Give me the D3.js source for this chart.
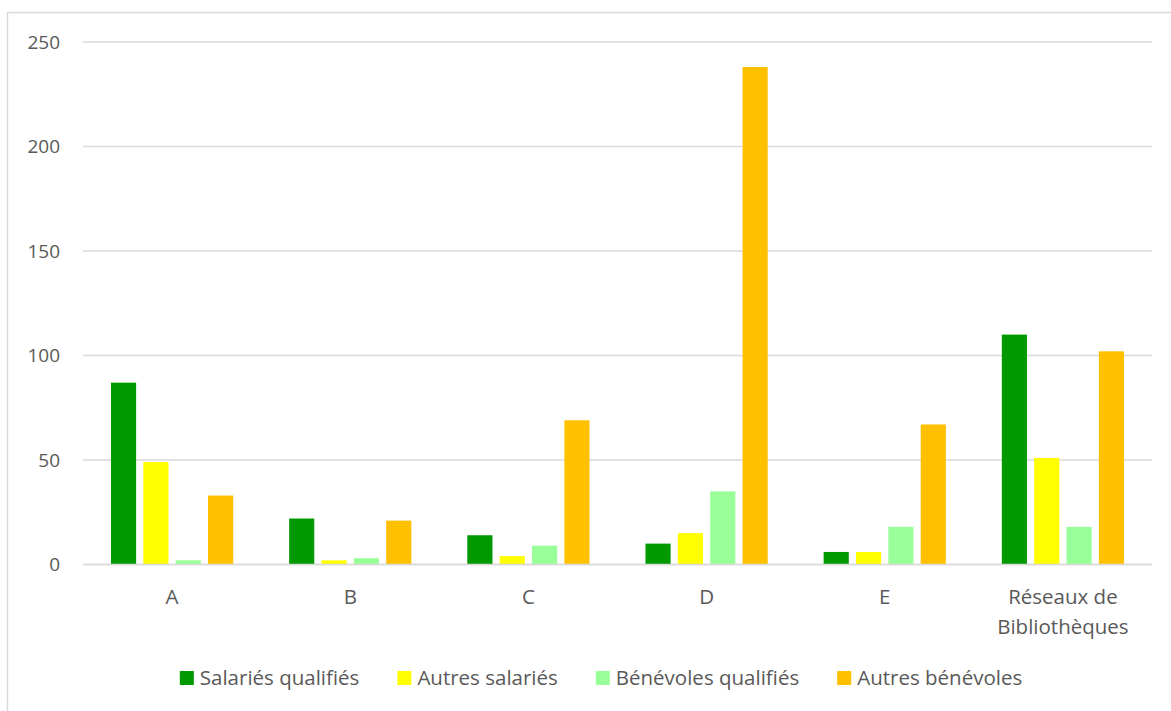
<!DOCTYPE html>
<html>
<head>
<meta charset="utf-8">
<script src="https://cdn.jsdelivr.net/npm/d3@7"></script>
<style>
  html, body { margin: 0; padding: 0; background: #fff; }
  svg { display: block; font-family: "Open Sans", sans-serif; }
</style>
</head>
<body>
<svg id="chart" width="1171" height="711"></svg>
<script>
const categories = ["A", "B", "C", "D", "E", "Réseaux de Bibliothèques"];
const seriesNames = ["Salariés qualifiés", "Autres salariés", "Bénévoles qualifiés", "Autres bénévoles"];
const salariesQualifies = [87, 22, 14, 10, 6, 110];
const autresSalaries = [49, 2, 4, 15, 6, 51];
const benevolesQualifies = [2, 3, 9, 35, 18, 18];
const autresBenevoles = [33, 21, 69, 238, 67, 102];
const yTicks = [0, 50, 100, 150, 200, 250];
const colors = ["#009900", "#FFFF00", "#99FF99", "#FFC000"];

(function() {
const FONT = "Open Sans, sans-serif";
const seriesValues = [salariesQualifies, autresSalaries, benevolesQualifies, autresBenevoles];
const data = categories.map((c, i) => ({
  cat: c,
  values: seriesNames.map((s, j) => ({ series: s, value: seriesValues[j][i], color: colors[j] }))
}));

const svg = d3.select("#chart");
const pLeft = 83, pRight = 1152, pTop = 42, pBottom = 564.5;

svg.append("rect").attr("x", 7.5).attr("y", 12.5).attr("width", 1180).attr("height", 720)
  .attr("fill", "none").attr("stroke", "#d9d9d9").attr("stroke-width", 1.5);

const y = d3.scaleLinear().domain([0, 250]).range([pBottom, pTop]);
const x0 = d3.scaleBand().domain(categories).range([pLeft, pRight]).paddingInner(0.314).paddingOuter(0.157);
const x1 = d3.scaleBand().domain(seriesNames).range([0, x0.bandwidth()]).paddingInner(0.223).paddingOuter(0);

svg.append("g").selectAll("line").data(yTicks).join("line")
  .attr("x1", pLeft).attr("x2", pRight)
  .attr("y1", d => y(d)).attr("y2", d => y(d))
  .attr("stroke", "#d9d9d9").attr("stroke-width", 1.5);

const yAxis = d3.axisLeft(y).tickValues(yTicks).tickSize(0).tickPadding(0);
const yg = svg.append("g").attr("transform", `translate(60,0)`).call(yAxis);
yg.select(".domain").remove();
yg.selectAll("text").attr("fill", "#595959").attr("font-size", 19).attr("font-family", FONT);

const groups = svg.append("g").selectAll("g").data(data).join("g")
  .attr("transform", d => `translate(${x0(d.cat)},0)`);
groups.selectAll("rect").data(d => d.values).join("rect")
  .attr("x", d => x1(d.series))
  .attr("width", x1.bandwidth())
  .attr("y", d => y(d.value))
  .attr("height", d => y(0) - y(d.value))
  .attr("fill", d => d.color);

svg.append("line").attr("x1", pLeft).attr("x2", pRight).attr("y1", y(0)).attr("y2", y(0))
  .attr("stroke", "#d9d9d9").attr("stroke-width", 1.5);

const xAxis = d3.axisBottom(x0).tickSize(0).tickPadding(0);
const xg = svg.append("g").attr("transform", `translate(0,${pBottom})`).call(xAxis);
xg.select(".domain").remove();
xg.selectAll("text").each(function(d) {
  const t = d3.select(this);
  t.text(null).attr("fill", "#595959").attr("font-size", 20.5).attr("font-family", FONT).attr("dy", null).attr("y", 0);
  const words = d === "Réseaux de Bibliothèques" ? ["Réseaux de", "Bibliothèques"] : [d];
  words.forEach((w, i) => t.append("tspan").attr("x", 0).attr("y", 39 + i * 30).text(w));
});

const legend = svg.append("g");
const items = legend.selectAll("g").data(seriesNames).join("g");
items.append("rect").attr("width", 14).attr("height", 14).attr("y", 671).attr("fill", (d, i) => colors[i]);
items.append("text").attr("x", 20).attr("y", 685).attr("fill", "#595959").attr("font-size", 20.5)
  .attr("font-family", FONT).text(d => d);
let widths = [];
items.each(function() { widths.push(this.querySelector("text").getComputedTextLength() + 20); });
const gap = 38;
const total = d3.sum(widths) + gap * (widths.length - 1);
let cx = (173 + 1029) / 2 - total / 2;
items.attr("transform", (d, i) => { const tx = cx; cx += widths[i] + gap; return `translate(${tx},0)`; });
})();
</script>
</body>
</html>
